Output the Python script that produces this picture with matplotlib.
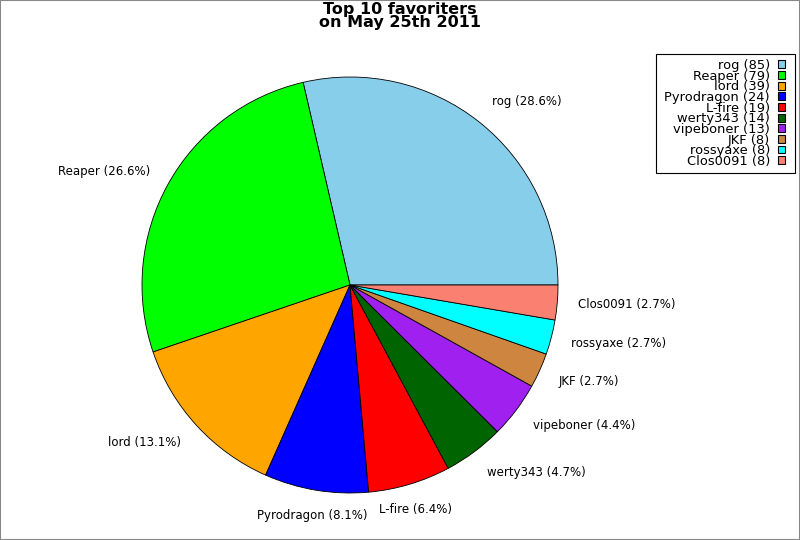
import numpy as np
import matplotlib
matplotlib.use('Agg')
from matplotlib import pyplot as plt
from matplotlib.patches import Rectangle, Patch

names = ['rog', 'Reaper', 'lord', 'Pyrodragon', 'L-fire', 'werty343',
         'vipeboner', 'JKF', 'rossyaxe', 'Clos0091']
counts = [85, 79, 39, 24, 19, 14, 13, 8, 8, 8]
colors = ['#87ceeb', '#00ff00', '#ffa500', '#0000ff', '#ff0000', '#006400',
          '#a020f0', '#cd853f', '#00ffff', '#fa8072']

title = 'Top 10 favoriters\non May 25th 2011'


def main():
    fig = plt.figure(figsize=(8, 5.4), dpi=100)
    W, H = 800, 540
    cx, cy, r = 350, 285, 208
    ax = fig.add_axes([(cx - r) / W, (H - cy - r) / H, 2 * r / W, 2 * r / H])

    ax.pie(counts, colors=colors, startangle=0, counterclock=True,
           wedgeprops=dict(edgecolor='black', linewidth=0.6))
    ax.set_xlim(-1, 1)
    ax.set_ylim(-1, 1)
    ax.set_aspect('auto')

    total = sum(counts)
    cum = np.cumsum([0] + counts[:-1])
    for name, c, start in zip(names, counts, cum):
        ang = np.deg2rad((start + c / 2) / total * 360)
        x, y = 1.1 * np.cos(ang), 1.125 * np.sin(ang)
        if abs(np.cos(ang)) < 0.35:
            ha = 'center'
        elif x > 0:
            ha = 'left'
        else:
            ha = 'right'
        ax.text(x, y, '%s (%.1f%%)' % (name, 100.0 * c / total), ha=ha, va='center',
                fontsize=8.5, clip_on=False)

    fig.text(0.5, 0.997, title, ha='center', va='top', fontsize=11.5, fontweight='bold',
             linespacing=0.9)

    # legend: labels right-aligned, swatch on the right, frame drawn separately
    handles = [Patch(facecolor=col, edgecolor='black', linewidth=0.8) for col in colors]
    labels = ['%s (%d)' % (n, c) for n, c in zip(names, counts)]
    fig.legend(handles, labels, loc='upper right', bbox_to_anchor=(785 / W, 1 - 59 / H),
               markerfirst=False, fontsize=9.4, labelspacing=-0.18, handlelength=0.54,
               handleheight=0.54, handletextpad=0.6, borderpad=0, borderaxespad=0,
               frameon=False)
    fig.patches.append(Rectangle((656 / W, 1 - 173 / H), 139 / W, 119 / H,
                                 transform=fig.transFigure, fill=False,
                                 edgecolor='black', linewidth=0.8))

    fig.patches.append(Rectangle((0, 0), 1, 1, transform=fig.transFigure, fill=False,
                                 edgecolor='#888888', linewidth=1.5))

    fig.savefig('out.png', dpi=100)


if __name__ == '__main__':
    main()
